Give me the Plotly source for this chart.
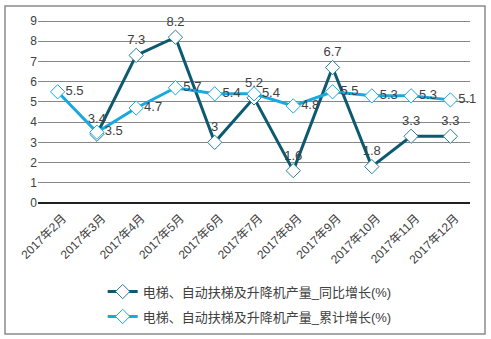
import plotly.graph_objects as go

months = ["2017年2月", "2017年3月", "2017年4月", "2017年5月", "2017年6月", "2017年7月",
          "2017年8月", "2017年9月", "2017年10月", "2017年11月", "2017年12月"]
yoy = [None, 3.4, 7.3, 8.2, 3, 5.2, 1.6, 6.7, 1.8, 3.3, 3.3]
cum = [5.5, 3.5, 4.7, 5.7, 5.4, 5.4, 4.8, 5.5, 5.3, 5.3, 5.1]
name_yoy = "电梯、自动扶梯及升降机产量_同比增长(%)"
name_cum = "电梯、自动扶梯及升降机产量_累计增长(%)"

dark = "#0D5A70"
light = "#17A9E0"
txt = "#404040"
font = "Liberation Sans, Noto Sans CJK SC, sans-serif"

fig = go.Figure()
fig.add_trace(go.Scatter(
    x=months, y=yoy, name=name_yoy, mode="lines+markers+text", legendgroup="a",
    line=dict(color=dark, width=3),
    marker=dict(symbol="diamond", size=11, color="white", line=dict(color="#2B7C92", width=1)),
    text=[("" if v is None else f"{v:g}") for v in yoy], textposition="top center",
    textfont=dict(size=13, color=txt, family=font), cliponaxis=False,
))
fig.add_trace(go.Scatter(
    x=months, y=cum, name=name_cum, mode="lines+markers+text", legendgroup="b",
    line=dict(color=light, width=3),
    marker=dict(symbol="diamond", size=11, color="white", line=dict(color=light, width=1)),
    text=[f"{v:g}" for v in cum], textposition="middle right",
    textfont=dict(size=13, color=txt, family=font), cliponaxis=False,
))

H = 184
fig.update_layout(
    width=491, height=339,
    margin=dict(l=38, r=21, t=19, b=136, autoexpand=False),
    paper_bgcolor="white", plot_bgcolor="white",
    font=dict(family=font, color=txt, size=12),
    showlegend=True,
    legend=dict(orientation="v", x=0.49, xanchor="center", y=-0.40, yanchor="top",
                font=dict(size=13, color=txt), tracegroupgap=5, itemwidth=30),
    xaxis=dict(type="category", tickangle=-45, tickfont=dict(size=12, color=txt),
               ticklabelstandoff=5, ticklabelshift=5,
               showgrid=False, showline=False, ticks="", range=[-0.5, 10.5], automargin=False),
    yaxis=dict(range=[0, 9.1], tickvals=list(range(10)), showgrid=True, gridcolor="#878787", gridwidth=1,
               zeroline=True, zerolinecolor="#202020", zerolinewidth=1.5,
               tickfont=dict(size=12, color=txt), ticks="", showline=False, automargin=False),
    shapes=[dict(type="rect", xref="paper", yref="paper",
                 x0=(5 - 38) / 432, x1=(485 - 38) / 432,
                 y0=(203 - 334) / H, y1=(203 - 6) / H,
                 line=dict(color="#8C8C8C", width=1.5), fillcolor="rgba(0,0,0,0)", layer="below")],
)

fig.write_html("out.html")
